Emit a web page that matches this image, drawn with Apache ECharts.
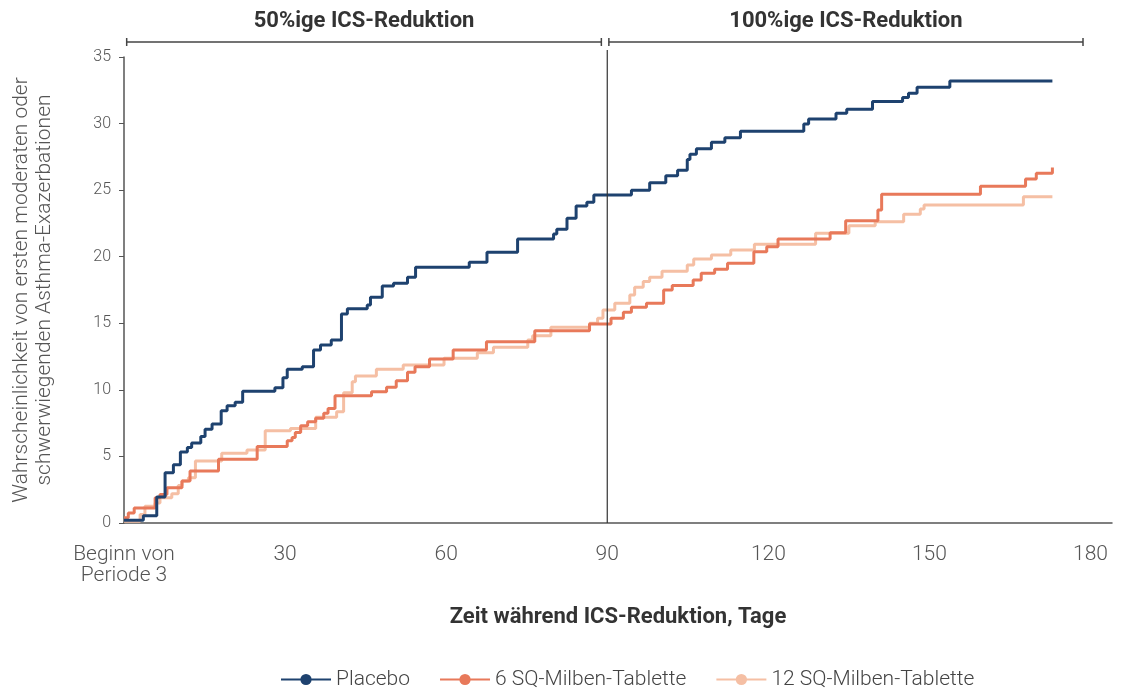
<!DOCTYPE html>
<html>
<head>
<meta charset="utf-8">
<script src="https://cdn.jsdelivr.net/npm/echarts@6/dist/echarts.min.js"></script>
<style>
  html, body { margin: 0; padding: 0; background: #fff; }
  #chart { width: 1124px; height: 693px; }
</style>
</head>
<body>
<div id="chart"></div>
<script>
// Kaplan-Meier Stufen: Tag, an dem die Kurve auf den Wert springt
var placeboDays = [0, 3.6, 6.1, 7.65, 9.2, 10.5, 11.8, 12.6, 14.3, 15.1, 16.4, 18.1, 19.2, 20.7, 22.1, 28.1, 29.6, 30.4, 33.2, 35.3, 36.6, 38.6, 40.5, 41.6, 45.3, 45.9, 48.1, 50.2, 52.8, 54.3, 64.3, 67.6, 73.3, 80.0, 80.6, 82.5, 84.2, 86.2, 87.5, 94.5, 97.9, 100.9, 103.1, 104.9, 105.4, 106.6, 109.4, 111.9, 114.8, 126.6, 127.5, 132.6, 134.6, 139.4, 145.0, 146.1, 147.7, 153.8, 172.9];
var placeboVals = [0.2, 0.55, 1.95, 3.78, 4.38, 5.34, 5.67, 6.0, 6.5, 7.05, 7.43, 8.44, 8.8, 9.07, 9.9, 10.16, 10.91, 11.54, 11.74, 13.0, 13.37, 13.75, 15.7, 16.1, 16.37, 16.95, 17.8, 18.0, 18.45, 19.2, 19.58, 20.33, 21.33, 21.7, 22.06, 22.88, 23.81, 24.09, 24.64, 25.0, 25.56, 26.09, 26.5, 27.3, 27.7, 28.1, 28.6, 28.94, 29.42, 29.97, 30.34, 30.77, 31.07, 31.65, 31.95, 32.27, 32.72, 33.2, 33.2];

var sq6Days = [0, 0.8, 1.9, 5.8, 6.7, 8.0, 10.8, 12.3, 17.6, 24.8, 30.4, 31.3, 31.9, 32.9, 34.2, 35.7, 37.2, 38.0, 39.3, 46.1, 48.9, 50.7, 52.8, 54.2, 56.9, 61.3, 67.5, 76.5, 86.7, 90.7, 93.0, 94.5, 97.3, 100.5, 102.1, 106.0, 107.5, 110.0, 112.4, 117.3, 119.7, 121.8, 131.5, 134.4, 140.4, 141.1, 159.5, 167.9, 169.9, 172.9];
var sq6Vals = [0.4, 0.76, 1.13, 1.89, 2.14, 2.64, 3.15, 3.9, 4.79, 5.74, 6.17, 6.42, 6.8, 7.3, 7.6, 7.86, 8.24, 8.6, 9.56, 9.86, 10.19, 10.69, 11.32, 11.74, 12.32, 12.99, 13.62, 14.44, 14.95, 15.37, 15.83, 16.2, 16.5, 17.5, 17.83, 18.25, 18.75, 19.05, 19.5, 20.38, 20.75, 21.33, 21.8, 22.7, 23.5, 24.7, 25.3, 25.84, 26.27, 26.7];

var sq12Days = [0, 3.0, 3.9, 5.8, 6.7, 8.9, 10.1, 10.8, 12.0, 13.3, 18.2, 22.9, 26.3, 31.0, 35.7, 39.6, 40.9, 42.5, 43.1, 47.0, 52.0, 59.6, 65.8, 68.8, 75.2, 76.1, 79.5, 86.7, 88.2, 89.2, 91.4, 94.2, 95.1, 96.7, 97.9, 100.2, 104.9, 106.1, 109.4, 113.0, 117.4, 128.8, 135.0, 139.9, 145.2, 148.3, 149.0, 167.5, 172.9];
var sq12Vals = [0.13, 0.63, 1.26, 1.51, 1.89, 2.19, 2.82, 3.15, 3.4, 4.66, 5.24, 5.49, 6.93, 7.1, 7.94, 8.36, 9.79, 10.61, 11.04, 11.54, 11.87, 12.37, 12.79, 13.2, 13.74, 14.07, 14.7, 15.0, 15.37, 16.0, 16.5, 17.12, 17.7, 18.13, 18.45, 18.9, 19.38, 19.83, 20.13, 20.5, 20.93, 21.76, 22.33, 22.63, 23.18, 23.58, 23.88, 24.5, 24.5];

var seriesNames = ['Placebo', '6 SQ-Milben-Tablette', '12 SQ-Milben-Tablette'];
var phaseLabels = ['50%ige ICS-Reduktion', '100%ige ICS-Reduktion'];
var phaseRanges = [[0.5, 88.9], [90.3, 178.6]];
var phaseSplit = 90;

function pairs(days, vals) {
  return days.map(function (d, i) { return [d, vals[i]]; });
}

var font = 'Roboto, "Noto Sans", sans-serif';
var chart = echarts.init(document.getElementById('chart'));

var option = {
  animation: false,
  textStyle: { fontFamily: font },
  grid: { left: 124, right: 12, top: 57, bottom: 170, outerBoundsMode: 'none' },
  legend: {
    data: seriesNames,
    left: 280,
    top: 669,
    padding: 0,
    itemWidth: 50,
    itemHeight: 14,
    itemGap: 29,
    textStyle: { fontSize: 21, color: '#444', fontWeight: 300, fontFamily: font }
  },
  xAxis: {
    type: 'value',
    min: 0,
    max: 184,
    interval: 30,
    name: 'Zeit während ICS-Reduktion, Tage',
    nameLocation: 'middle',
    nameGap: 83,
    nameTextStyle: { fontSize: 22, fontWeight: 'bold', color: '#333' },
    axisLine: { lineStyle: { color: '#555', width: 1.5 } },
    axisTick: { show: false },
    splitLine: { show: false },
    axisLabel: {
      margin: 21,
      fontSize: 21,
      lineHeight: 21,
      color: '#555',
      fontWeight: 300,
      showMaxLabel: false,
      formatter: function (v) { return v === 0 ? 'Beginn von\nPeriode 3' : String(v); }
    }
  },
  yAxis: {
    type: 'value',
    min: 0,
    max: 35,
    interval: 5,
    name: 'Wahrscheinlichkeit von ersten moderaten oder\nschwerwiegenden Asthma-Exazerbationen',
    nameLocation: 'middle',
    nameGap: 68,
    nameTextStyle: { fontSize: 21, lineHeight: 23, color: '#555', fontWeight: 300 },
    axisLine: { show: true, lineStyle: { color: '#555', width: 1.5 } },
    axisTick: { show: true, length: 5, lineStyle: { color: '#555' } },
    splitLine: { show: false },
    axisLabel: { margin: 13, fontSize: 16, color: '#555', fontWeight: 300 }
  },
  series: [
    {
      name: seriesNames[2],
      type: 'line',
      step: 'end',
      symbol: 'circle',
      symbolSize: 10,
      showSymbol: false,
      color: '#f5bfa4',
      lineStyle: { width: 3, color: '#f5bfa4' },
      data: pairs(sq12Days, sq12Vals),
      z: 2
    },
    {
      name: seriesNames[1],
      type: 'line',
      step: 'end',
      symbol: 'circle',
      symbolSize: 10,
      showSymbol: false,
      color: '#e8795a',
      lineStyle: { width: 3, color: '#e8795a' },
      data: pairs(sq6Days, sq6Vals),
      z: 3
    },
    {
      name: seriesNames[0],
      type: 'line',
      step: 'end',
      symbol: 'circle',
      symbolSize: 10,
      showSymbol: false,
      color: '#1e426f',
      lineStyle: { width: 3, color: '#1e426f' },
      data: pairs(placeboDays, placeboVals),
      z: 4
    }
  ]
};

chart.setOption(option);

// Klammern über dem Diagramm und senkrechte Linie bei Tag 90
var yBracket = 42;
var yBottom = chart.convertToPixel({ yAxisIndex: 0 }, 0);
var graphics = [];
phaseRanges.forEach(function (r, i) {
  var x0 = chart.convertToPixel({ xAxisIndex: 0 }, r[0]);
  var x1 = chart.convertToPixel({ xAxisIndex: 0 }, r[1]);
  var st = { stroke: '#444', lineWidth: 1.5 };
  graphics.push({ type: 'line', shape: { x1: x0, y1: yBracket, x2: x1, y2: yBracket }, style: st });
  graphics.push({ type: 'line', shape: { x1: x0, y1: yBracket - 4, x2: x0, y2: yBracket + 4 }, style: st });
  graphics.push({ type: 'line', shape: { x1: x1, y1: yBracket - 4, x2: x1, y2: yBracket + 4 }, style: st });
  graphics.push({
    type: 'text',
    x: (x0 + x1) / 2,
    y: 21,
    style: {
      text: phaseLabels[i],
      fontSize: 22,
      fontWeight: 'bold',
      fontFamily: font,
      fill: '#333',
      textAlign: 'center',
      textVerticalAlign: 'middle'
    }
  });
});
var xSplit = chart.convertToPixel({ xAxisIndex: 0 }, phaseSplit);
graphics.push({
  type: 'line',
  shape: { x1: xSplit, y1: 50, x2: xSplit, y2: yBottom },
  style: { stroke: '#333', lineWidth: 1.2 },
  z: 10
});
chart.setOption({ graphic: graphics });
</script>
</body>
</html>
